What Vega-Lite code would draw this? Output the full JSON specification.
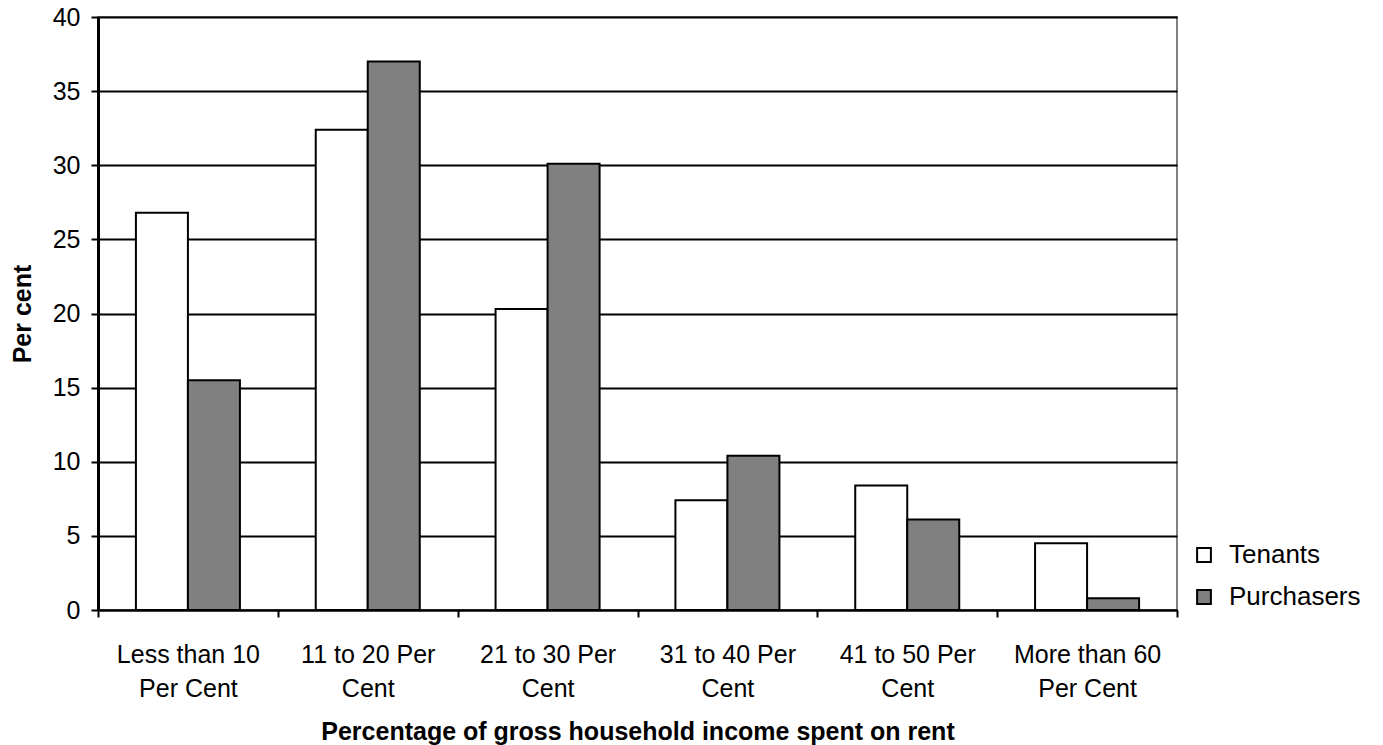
{
  "$schema": "https://vega.github.io/schema/vega-lite/v6.json",
  "width": 1079,
  "height": 593,
  "autosize": {"type": "none"},
  "padding": {"left": 98, "top": 17, "right": 206, "bottom": 135},
  "background": "white",
  "config": {
    "font": "Liberation Sans",
    "view": {"stroke": "#808080", "strokeWidth": 2},
    "axis": {
      "labelFont": "Liberation Sans",
      "titleFont": "Liberation Sans",
      "labelColor": "black",
      "titleColor": "black",
      "labelFontSize": 25,
      "titleFontSize": 25,
      "titleFontWeight": "bold",
      "domainColor": "black",
      "tickColor": "black"
    },
    "legend": {
      "labelFont": "Liberation Sans",
      "labelFontSize": 26,
      "labelColor": "black"
    }
  },
  "data": {
    "values": [
      {"band": "Less than 10 Per Cent", "series": "Tenants", "pct": 26.8},
      {"band": "Less than 10 Per Cent", "series": "Purchasers", "pct": 15.5},
      {"band": "11 to 20 Per Cent", "series": "Tenants", "pct": 32.4},
      {"band": "11 to 20 Per Cent", "series": "Purchasers", "pct": 37.0},
      {"band": "21 to 30 Per Cent", "series": "Tenants", "pct": 20.3},
      {"band": "21 to 30 Per Cent", "series": "Purchasers", "pct": 30.1},
      {"band": "31 to 40 Per Cent", "series": "Tenants", "pct": 7.4},
      {"band": "31 to 40 Per Cent", "series": "Purchasers", "pct": 10.4},
      {"band": "41 to 50 Per Cent", "series": "Tenants", "pct": 8.4},
      {"band": "41 to 50 Per Cent", "series": "Purchasers", "pct": 6.1},
      {"band": "More than 60 Per Cent", "series": "Tenants", "pct": 4.5},
      {"band": "More than 60 Per Cent", "series": "Purchasers", "pct": 0.8}
    ]
  },
  "mark": {"type": "bar", "stroke": "black", "strokeWidth": 2},
  "encoding": {
    "x": {
      "field": "band",
      "type": "nominal",
      "sort": null,
      "scale": {"paddingInner": 0, "paddingOuter": 0},
      "axis": {
        "title": "Percentage of gross household income spent on rent",
        "labelAngle": 0,
        "tickBand": "extent",
        "tickSize": 7,
        "tickWidth": 2,
        "domainWidth": 2,
        "labelPadding": 25,
        "labelLineHeight": 34,
        "labelBaseline": "top",
        "titlePadding": 18,
        "labelExpr": "indexof(datum.label, 'Per Cent') < 0 ? '' : test(/^[0-9]/, datum.label) ? [replace(datum.label, / Cent$/, ''), 'Cent'] : [replace(datum.label, / Per Cent$/, ''), 'Per Cent']"
      }
    },
    "xOffset": {
      "field": "series",
      "type": "nominal",
      "sort": ["Tenants", "Purchasers"],
      "scale": {"paddingInner": 0, "paddingOuter": 0.729}
    },
    "y": {
      "field": "pct",
      "type": "quantitative",
      "scale": {"domain": [0, 40], "nice": false},
      "axis": {
        "title": "Per cent",
        "values": [0, 5, 10, 15, 20, 25, 30, 35, 40],
        "grid": true,
        "gridColor": "black",
        "gridWidth": 2,
        "gridOpacity": 1,
        "domainWidth": 3,
        "tickSize": 7,
        "tickWidth": 2,
        "labelPadding": 11,
        "titlePadding": 17
      }
    },
    "fill": {
      "field": "series",
      "type": "nominal",
      "sort": ["Tenants", "Purchasers"],
      "scale": {"domain": ["Tenants", "Purchasers"], "range": ["#ffffff", "#808080"]},
      "legend": {
        "title": null,
        "orient": "none",
        "legendX": 1093,
        "legendY": 525,
        "symbolType": "square",
        "symbolSize": 190,
        "symbolStrokeColor": "black",
        "symbolStrokeWidth": 2,
        "rowPadding": 16,
        "labelOffset": 12
      }
    }
  }
}
